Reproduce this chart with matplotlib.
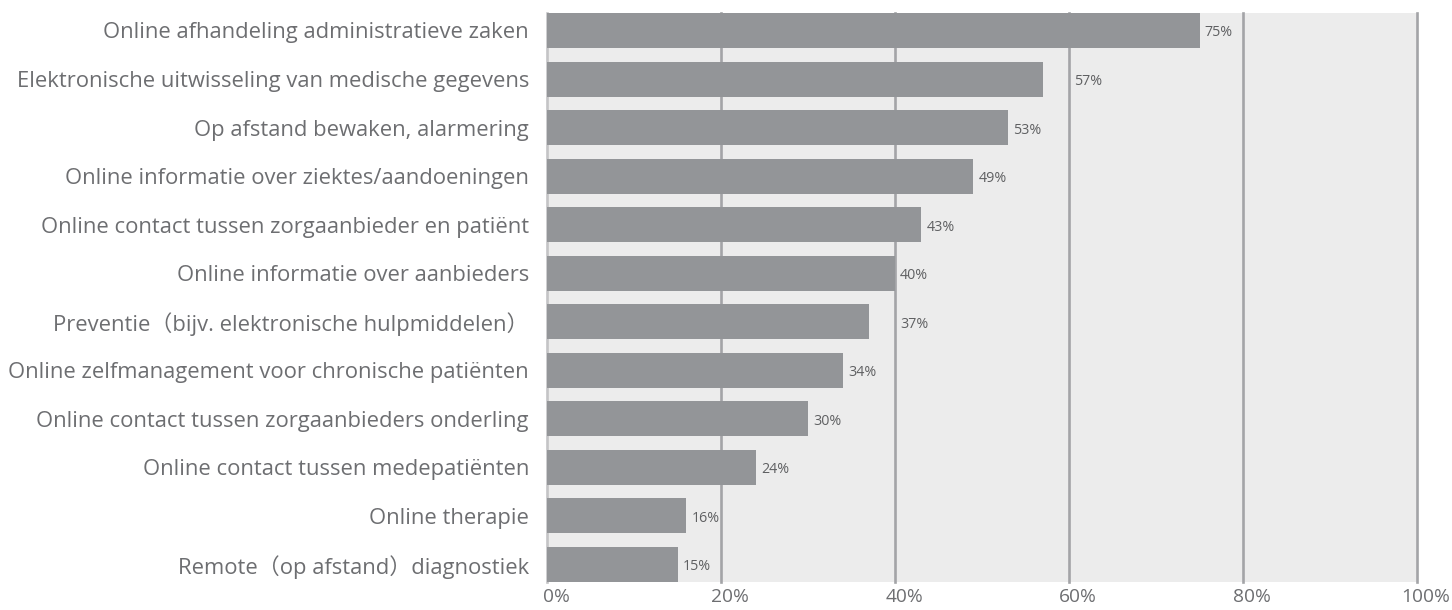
import matplotlib
matplotlib.use("Agg")
import matplotlib.pyplot as plt
import matplotlib.transforms as mtransforms

# ── Data ──────────────────────────────────────────────────────────────────────
categories = [
    "Online afhandeling administratieve zaken",
    "Elektronische uitwisseling van medische gegevens",
    "Op afstand bewaken, alarmering",
    "Online informatie over ziektes/aandoeningen",
    "Online contact tussen zorgaanbieder en patiënt",
    "Online informatie over aanbieders",
    "Preventie（bijv. elektronische hulpmiddelen）",
    "Online zelfmanagement voor chronische patiënten",
    "Online contact tussen zorgaanbieders onderling",
    "Online contact tussen medepatiënten",
    "Online therapie",
    "Remote（op afstand）diagnostiek",
]
values = [75, 57, 53, 49, 43, 40, 37, 34, 30, 24, 16, 15]
xticks = [0, 20, 40, 60, 80, 100]
xtick_labels = ["0%", "20%", "40%", "60%", "80%", "100%"]

BAR = "#939598"
GRID = "#a3a4a7"
BG = "#ececec"
TXT = "#6d6e71"

plt.rcParams["font.family"] = ["Open Sans", "Noto Sans CJK SC", "DejaVu Sans"]

fig = plt.figure(figsize=(14.52, 6.10), dpi=100)
ax = fig.add_axes([547 / 1452, 28 / 610, 870 / 1452, 569 / 610])
ax.set_facecolor(BG)

ypos = list(range(len(categories)))
ax.barh(ypos, values, height=0.72, color=BAR, zorder=2)

# vertical gridlines (bars drawn on top)
for t in xticks:
    ax.axvline(t, color=GRID if t else "#c4c4c6", linewidth=1.9, zorder=1, clip_on=False)

# value labels; push past a gridline when they would collide with it
pad, lab_w = 0.6, 3.3
for y, v in zip(ypos, values):
    x = v + pad
    for g in xticks[1:]:
        if x < g < x + lab_w and v < g:
            x = g + pad
    ax.text(x, y + 0.05, f"{v}%", va="center", ha="left", fontsize=10.3, color="#5f6062", zorder=3)

ax.set_xlim(0, 100)
ax.set_ylim(len(categories) - 1 + 0.36, -0.36)
ax.set_yticks(ypos)
ax.set_yticklabels(categories, fontsize=15.8, color=TXT)
ax.set_xticks(xticks)
ax.set_xticklabels(xtick_labels, fontsize=13.8, color=TXT)
ax.tick_params(axis="y", length=0, pad=13)
ax.tick_params(axis="x", length=0, pad=4)
offset = mtransforms.ScaledTranslation(9 / 100, 0, fig.dpi_scale_trans)
for lab in ax.get_xticklabels():
    lab.set_transform(lab.get_transform() + offset)
for s in ax.spines.values():
    s.set_visible(False)

fig.savefig("out.png", dpi=100, facecolor="white")
